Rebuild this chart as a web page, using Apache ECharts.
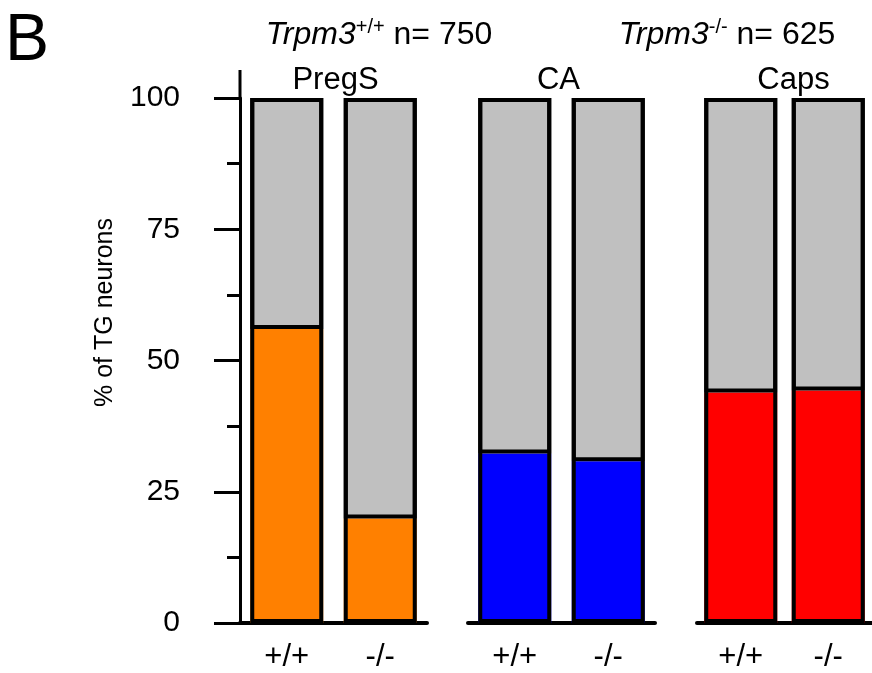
<!DOCTYPE html>
<html><head><meta charset="utf-8">
<script src="https://cdn.jsdelivr.net/npm/echarts@6/dist/echarts.min.js"></script>
<style>html,body{margin:0;padding:0;background:#fff}#c{width:872px;height:673px}</style>
</head><body><div id="c"></div>
<script>
// ---- data ----
const groups = ['PregS', 'CA', 'Caps'];
const genotypes = ['+/+', '-/-'];
const pregsPct = [56.0, 19.9];
const caPct = [32.3, 30.8];
const capsPct = [43.9, 44.3];
const groupColors = ['#ff8000', '#0000ff', '#ff0000'];
const yTickValues = [0, 25, 50, 75, 100];
const headerLeft = { gene: 'Trpm3', sup: '+/+', n: 750 };
const headerRight = { gene: 'Trpm3', sup: '-/-', n: 625 };

(function () {
const groupData = [pregsPct, caPct, capsPct];
const FONT = 'Liberation Sans, Arial, sans-serif';
const chart = echarts.init(document.getElementById('c'), null, { renderer: 'canvas' });

const gridLefts = [240, 468, 697];
const grids = gridLefts.map(l => ({ left: l, width: 187, top: 98, bottom: 50, containLabel: false }));
const xAxes = groupData.map((d, i) => ({
  type: 'category', gridIndex: i, data: genotypes,
  axisLine: { show: true, lineStyle: { color: '#000', width: 4 } },
  axisTick: { show: false },
  axisLabel: { color: '#000', fontSize: 31, fontFamily: FONT, margin: 19 }
}));

const yAxes = groupData.map((d, i) => ({
  type: 'value', gridIndex: i, min: 0, max: 100, interval: 25,
  show: i === 0,
  axisLine: { show: i === 0, lineStyle: { color: '#000', width: 3 } },
  axisTick: { show: true, length: 26, lineStyle: { color: '#000', width: 3 } },
  minorTick: { show: true, splitNumber: 2, length: 13, lineStyle: { color: '#000', width: 3 } },
  splitLine: { show: false },
  axisLabel: { color: '#000', fontSize: 30, fontFamily: FONT, margin: 60,
    formatter: v => yTickValues.includes(v) ? String(v) : '' },
  name: i === 0 ? '% of TG neurons' : '',
  nameLocation: 'middle', nameGap: 122, nameRotate: 90,
  nameTextStyle: { color: '#000', fontSize: 25, fontFamily: FONT, padding: [0, 0, 0, 96] }
}));

const series = [];
groupData.forEach((d, i) => {
  series.push({
    type: 'bar', xAxisIndex: i, yAxisIndex: i, stack: 's' + i, barWidth: 73,
    data: d,
    itemStyle: { color: groupColors[i], borderWidth: 0 },
    emphasis: { disabled: true }, silent: true
  });
  series.push({
    type: 'bar', xAxisIndex: i, yAxisIndex: i, stack: 's' + i, barWidth: 73,
    data: d.map(v => 100 - v),
    itemStyle: { color: '#c0c0c0', borderColor: '#000', borderWidth: 4 },
    emphasis: { disabled: true }, silent: true
  });
  // outline of the full 100% bar
  series.push({
    type: 'bar', xAxisIndex: i, yAxisIndex: i, barWidth: 73, barGap: '-100%',
    data: d.map(() => 100),
    itemStyle: { color: 'rgba(0,0,0,0)', borderColor: '#000', borderWidth: 4 },
    emphasis: { disabled: true }, silent: true, z: 3
  });
});

function headerRich(h) {
  return '{i|' + h.gene + '}{s|' + h.sup + '}{n| n= ' + h.n + '}';
}
const rich = {
  i: { fontStyle: 'italic', fontSize: 32, fontFamily: FONT, color: '#000', lineHeight: 36 },
  s: { fontSize: 20, fontFamily: FONT, color: '#000', padding: [0, 0, 16, 0] },
  n: { fontSize: 32, fontFamily: FONT, color: '#000', lineHeight: 36 }
};

chart.setOption({
  backgroundColor: '#fff',
  animation: false,
  grid: grids, xAxis: xAxes, yAxis: yAxes, series: series
});

const titleShift = [2, -3, 9];
const g = [
  { type: 'text', left: 5, top: 9, style: { text: 'B', fontSize: 66, fontFamily: FONT, fill: '#000' } },
  { type: 'text', x: 379, y: 35, style: { text: headerRich(headerLeft), rich: rich, align: 'center', verticalAlign: 'middle' } },
  { type: 'text', x: 727, y: 35, style: { text: headerRich(headerRight), rich: rich, align: 'center', verticalAlign: 'middle' } }
];
groupData.forEach((d, i) => {
  const p0 = chart.convertToPixel({ xAxisIndex: i, yAxisIndex: i }, [0, 100]);
  const p1 = chart.convertToPixel({ xAxisIndex: i, yAxisIndex: i }, [1, 100]);
  g.push({ type: 'text', x: (p0[0] + p1[0]) / 2 + titleShift[i], y: p0[1] - 18,
    style: { text: groups[i], fontSize: 31, fontFamily: FONT, fill: '#000', align: 'center', verticalAlign: 'middle' } });
});
const yTop = chart.convertToPixel({ xAxisIndex: 0, yAxisIndex: 0 }, [0, 100]);
g.push({ type: 'line', shape: { x1: 240, y1: yTop[1] + 1, x2: 240, y2: yTop[1] - 28 }, style: { stroke: '#000', lineWidth: 3 } });
chart.setOption({ graphic: g });
})();
</script></body></html>
